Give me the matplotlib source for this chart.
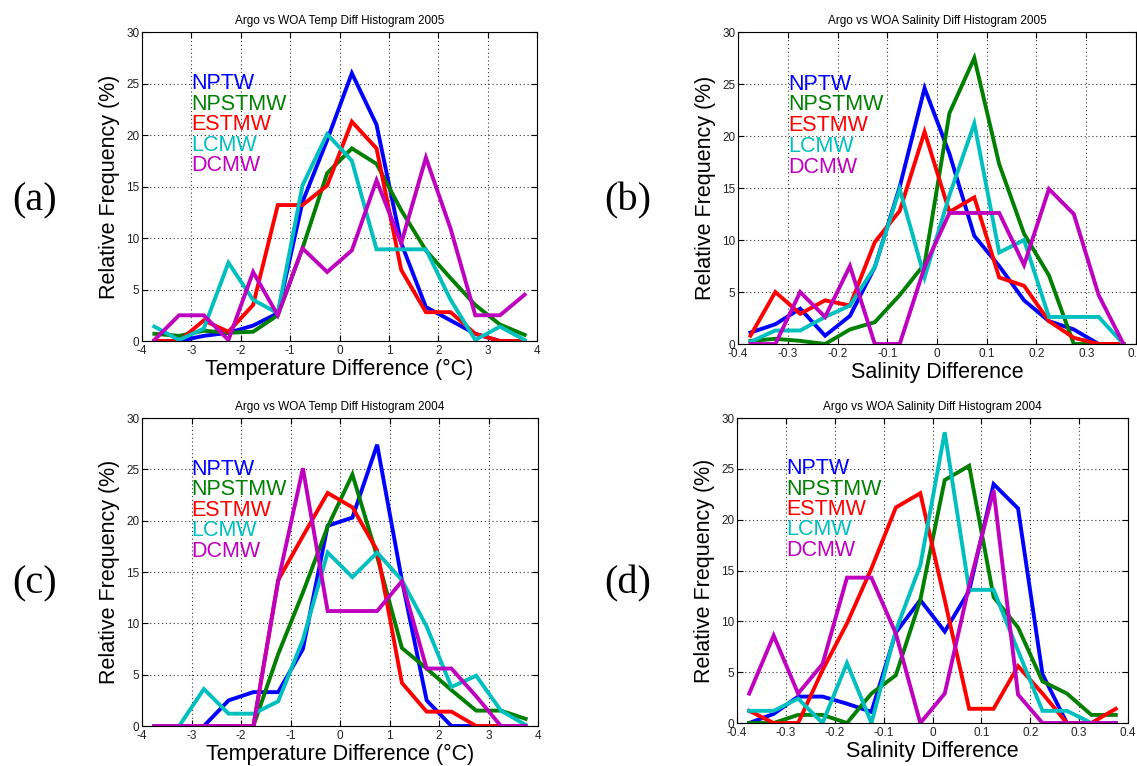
import numpy as np
import matplotlib
matplotlib.use('Agg')
import matplotlib.pyplot as plt

plt.rcParams['font.family'] = ['Liberation Sans', 'DejaVu Sans']

# bin centres
temp_bins = [-3.75, -3.25, -2.75, -2.25, -1.75, -1.25, -0.75, -0.25,
             0.25, 0.75, 1.25, 1.75, 2.25, 2.75, 3.25, 3.75]
sal_bins = [-0.375, -0.325, -0.275, -0.225, -0.175, -0.125, -0.075, -0.025,
            0.025, 0.075, 0.125, 0.175, 0.225, 0.275, 0.325, 0.375]

series_names = ['NPTW', 'NPSTMW', 'ESTMW', 'LCMW', 'DCMW']
series_colors = ['#0000ff', '#007f00', '#ff0000', '#00bfbf', '#bf00bf']

# (a) temperature 2005
temp_2005 = {
    'NPTW':   [0, 0, 0.5, 0.8, 1.5, 2.7, 13.5, 19.5, 26.0, 21.0, 9.5, 3.3, 2.0, 0.7, 0, 0],
    'NPSTMW': [0.7, 0.5, 1.0, 0.8, 0.9, 2.5, 9.0, 16.3, 18.7, 17.2, 12.7, 8.8, 6.1, 3.5, 1.6, 0.6],
    'ESTMW':  [0, 0, 2.0, 0.9, 3.5, 13.2, 13.2, 15.1, 21.3, 18.7, 6.9, 2.8, 2.8, 0.7, 0, 0],
    'LCMW':   [1.4, 0.1, 1.2, 7.6, 4.0, 2.7, 15.1, 20.1, 17.5, 8.9, 8.9, 8.9, 4.0, 0.1, 1.4, 0.1],
    'DCMW':   [0.1, 2.5, 2.5, 0.1, 6.7, 2.5, 9.0, 6.7, 8.8, 15.6, 9.5, 17.8, 10.9, 2.5, 2.5, 4.5],
}

# (b) salinity 2005
sal_2005 = {
    'NPTW':   [1.1, 1.9, 3.4, 0.8, 2.7, 7.4, 15.1, 24.6, 18.3, 10.4, 7.5, 4.2, 2.2, 1.4, 0, 0],
    'NPSTMW': [0.3, 0.5, 0.3, 0, 1.4, 2.1, 4.7, 7.7, 22.2, 27.5, 17.3, 10.6, 6.6, 0, 0, 0],
    'ESTMW':  [0.8, 5.0, 2.9, 4.2, 3.7, 9.8, 12.8, 20.4, 12.7, 14.1, 6.4, 5.6, 2.2, 0.6, 0, 0],
    'LCMW':   [0.2, 1.3, 1.3, 2.6, 3.7, 7.4, 14.9, 6.4, 14.3, 21.2, 8.8, 10.0, 2.6, 2.6, 2.6, 0],
    'DCMW':   [0, 0, 5.0, 2.6, 7.5, 0, 0, 7.4, 12.6, 12.6, 12.6, 7.6, 14.9, 12.5, 4.7, 0],
}

# (c) temperature 2004
temp_2004 = {
    'NPTW':   [0, 0, 0, 2.5, 3.3, 3.3, 7.5, 19.5, 20.3, 27.4, 14.2, 2.5, 0, 0, 0, 0],
    'NPSTMW': [0, 0, 0, 0, 0, 7.0, 13.0, 19.4, 24.5, 16.5, 7.6, 5.6, 3.5, 1.5, 1.5, 0.7],
    'ESTMW':  [0, 0, 0, 0, 0, 14.2, 18.5, 22.7, 21.3, 17.1, 4.2, 1.4, 1.4, 0, 0, 0],
    'LCMW':   [0, 0, 3.6, 1.2, 1.2, 2.4, 8.4, 16.9, 14.5, 16.9, 14.2, 9.7, 3.8, 4.9, 1.5, 0.1],
    'DCMW':   [0, 0, 0, 0, 0, 14.1, 25.1, 11.2, 11.2, 11.2, 14.1, 5.6, 5.6, 2.9, 0, 0],
}

# (d) salinity 2004
sal_2004 = {
    'NPTW':   [0, 0.9, 2.6, 2.6, 1.9, 1.1, 8.9, 12.1, 9.0, 13.0, 23.5, 21.1, 4.8, 0, 0, 0],
    'NPSTMW': [0, 0, 0.8, 0.8, 0, 2.9, 4.7, 12.1, 23.9, 25.3, 12.4, 9.4, 4.1, 2.9, 0.8, 0.8],
    'ESTMW':  [1.2, 0, 0, 5.2, 9.8, 15.2, 21.2, 22.6, 12.1, 1.4, 1.4, 5.6, 2.9, 0, 0, 1.4],
    'LCMW':   [1.2, 1.2, 2.4, 0, 5.9, 0, 9.1, 15.5, 28.6, 13.1, 13.1, 7.1, 1.2, 1.2, 0, 0],
    'DCMW':   [2.9, 8.6, 2.9, 5.8, 14.3, 14.3, 8.8, 0, 2.9, 13.5, 22.9, 2.8, 0, 0, 0, 0],
}

temp_ticks = [-4, -3, -2, -1, 0, 1, 2, 3, 4]
temp_ticklabels = ['-4', '-3', '-2', '-1', '0', '1', '2', '3', '4']
sal_ticks = [-0.4, -0.3, -0.2, -0.1, 0, 0.1, 0.2, 0.3, 0.4]
sal_ticklabels = ['-0.4', '-0.3', '-0.2', '-0.1', '0', '0.1', '0.2', '0.3', '0.4']
y_ticks = [0, 5, 10, 15, 20, 25, 30]

panels = [
    # data, bins, rect (l, b, w, h), title, xlabel, ticks, ticklabels, legend x, tag, tag pos
    (temp_2005, temp_bins, [0.1249, 0.5548, 0.3474, 0.4034],
     'Argo vs WOA Temp Diff Histogram 2005', 'Temperature Difference (\u00b0C)',
     temp_ticks, temp_ticklabels, -3.0, '(a)', (0.030, 0.738)),
    (sal_2005, sal_bins, [0.6491, 0.5509, 0.3500, 0.4073],
     'Argo vs WOA Salinity Diff Histogram 2005', 'Salinity Difference',
     sal_ticks, sal_ticklabels, -0.3, '(b)', (0.552, 0.738)),
    (temp_2004, temp_bins, [0.1249, 0.0522, 0.3483, 0.4021],
     'Argo vs WOA Temp Diff Histogram 2004', 'Temperature Difference (\u00b0C)',
     temp_ticks, temp_ticklabels, -3.0, '(c)', (0.030, 0.238)),
    (sal_2004, sal_bins, [0.6482, 0.0561, 0.3439, 0.3982],
     'Argo vs WOA Salinity Diff Histogram 2004', 'Salinity Difference',
     sal_ticks, sal_ticklabels, -0.3, '(d)', (0.552, 0.238)),
]

fig = plt.figure(figsize=(11.37, 7.66), dpi=100)

for data, bins, rect, title, xlabel, ticks, ticklabels, lx, tag, tagpos in panels:
    ax = fig.add_axes(rect)
    for name, col in zip(series_names, series_colors):
        ax.plot(bins, data[name], color=col, lw=2.8, solid_joinstyle='miter')
    ax.set_xlim(ticks[0], ticks[-1])
    ax.set_ylim(0, 30)
    ax.set_xticks(ticks)
    ax.set_xticklabels(ticklabels)
    ax.set_yticks(y_ticks)
    # MATLAB-style box: inward ticks on all four sides
    ax.tick_params(direction='in', length=4, labelsize=8.5, labelcolor='#222222',
                   top=True, right=True)
    ax.tick_params(axis='x', pad=3)
    ax.tick_params(axis='y', pad=2)
    ax.grid(True, linestyle=(0, (1, 2.5)), color='#333333', lw=0.8)
    ax.set_title(title, fontsize=8.5, pad=6)
    ax.set_xlabel(xlabel, fontsize=15.5, labelpad=1)
    ax.set_ylabel('Relative Frequency (%)', fontsize=15.5, labelpad=4)

    # colored name list in place of a legend
    for i, (name, col) in enumerate(zip(series_names, series_colors)):
        ax.text(lx, 25 - 2 * i, name, color=col, fontsize=15.5, va='center', ha='left')

    fig.text(tagpos[0], tagpos[1], tag, fontsize=29, family='Liberation Serif',
             ha='center', va='center')

fig.savefig('out.png', dpi=100)
